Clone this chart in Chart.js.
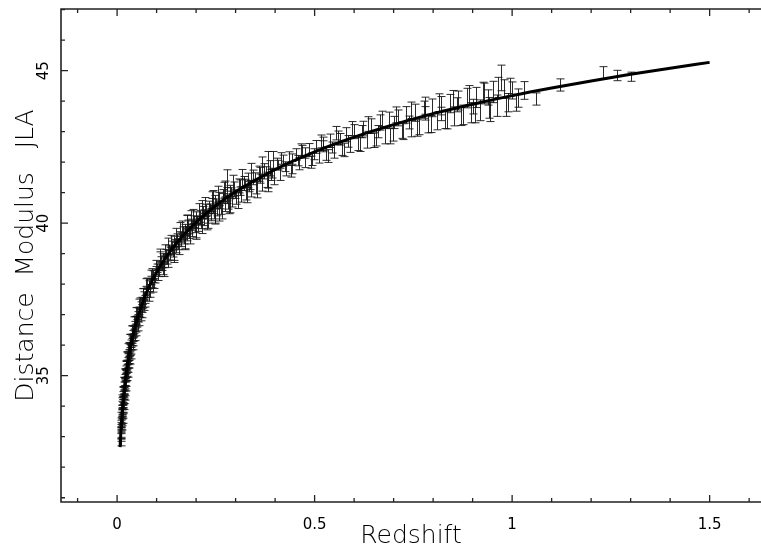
<!DOCTYPE html>
<html lang="en">
<head>
    <meta charset="UTF-8">
    <title>Distance Modulus JLA</title>
    <script src="https://cdn.jsdelivr.net/npm/chart.js@4.4.0/dist/chart.umd.min.js"></script>
    <style>
        body { margin: 0; background: #fff; overflow: hidden; }
    </style>
</head>
<body>
<canvas id="chart" width="761" height="551"></canvas>
<script>
// supernovae: redshift, distance modulus, error
const snZ = [
    0.0087, 0.0092, 0.0098, 0.0102, 0.0108, 0.0113, 0.0118, 0.0124, 0.0130, 0.0135,
    0.0141, 0.0146, 0.0152, 0.0158, 0.0163, 0.0169, 0.0174, 0.0180, 0.0186, 0.0192,
    0.0198, 0.0205, 0.0212, 0.0219, 0.0226, 0.0233, 0.0241, 0.0249, 0.0257, 0.0265,
    0.0274, 0.0283, 0.0292, 0.0302, 0.0312, 0.0322, 0.0333, 0.0344, 0.0355, 0.0367,
    0.0380, 0.0393, 0.0406, 0.0420, 0.0435, 0.0450, 0.0466, 0.0483, 0.0500, 0.0518,
    0.0537, 0.0556, 0.0576, 0.0597, 0.0619, 0.0642, 0.0666, 0.0690, 0.0715, 0.0741,
    0.0768, 0.0796, 0.0825, 0.0855, 0.0886, 0.0918, 0.0951, 0.0985,
    0.102, 0.106, 0.110, 0.113, 0.117, 0.120, 0.124, 0.127, 0.131, 0.134,
    0.138, 0.141, 0.145, 0.148, 0.152, 0.155, 0.159, 0.162, 0.166, 0.169,
    0.173, 0.176, 0.177, 0.180, 0.183, 0.187, 0.190, 0.194, 0.197, 0.201, 0.205,
    0.209, 0.213, 0.217, 0.221, 0.225, 0.229, 0.233, 0.237, 0.241, 0.245,
    0.248, 0.249, 0.253, 0.258, 0.262, 0.267, 0.272, 0.277, 0.278, 0.282, 0.287,
    0.292, 0.297, 0.302, 0.308, 0.314, 0.320, 0.326, 0.332, 0.338, 0.345,
    0.352, 0.359, 0.366, 0.373, 0.380, 0.382, 0.388, 0.396,
    0.405, 0.412, 0.420, 0.428, 0.436, 0.444, 0.452, 0.460, 0.468, 0.476,
    0.485, 0.494, 0.503, 0.512, 0.521, 0.530, 0.540, 0.550, 0.560, 0.570,
    0.580, 0.590, 0.600, 0.611, 0.622, 0.633, 0.644, 0.655, 0.666, 0.677,
    0.688, 0.699, 0.710, 0.721, 0.732, 0.743, 0.754, 0.765, 0.776, 0.787,
    0.798, 0.809, 0.820, 0.831, 0.842, 0.853, 0.864, 0.875, 0.886, 0.897,
    0.908, 0.919, 0.930, 0.941, 0.952, 0.961, 0.971, 0.980, 0.990, 1.000,
    1.015, 1.030, 1.060, 1.120, 1.230, 1.265, 1.300,
    0.0095, 0.0105, 0.0115, 0.0122, 0.0133, 0.0144, 0.0155, 0.0166, 0.0177, 0.0188,
    0.0201, 0.0215, 0.0229, 0.0245, 0.0261, 0.0278, 0.0297, 0.0317, 0.0338, 0.0361,
    0.0386, 0.0413, 0.0442, 0.0473, 0.0507, 0.0543, 0.0582, 0.0623, 0.0668, 0.0716,
    0.0768, 0.0823, 0.0882, 0.0945, 0.0990,
    0.104, 0.108, 0.115, 0.122, 0.129, 0.136, 0.143, 0.150, 0.157, 0.164,
    0.171, 0.178, 0.185, 0.192, 0.199, 0.207, 0.215, 0.223, 0.231, 0.239,
    0.247, 0.256, 0.265, 0.274, 0.284, 0.294, 0.305, 0.316, 0.328, 0.340,
    0.353, 0.367, 0.381, 0.395,
    0.310, 0.335, 0.362, 0.390, 0.415, 0.440, 0.465, 0.490, 0.515, 0.535,
    0.555, 0.575, 0.595, 0.615, 0.635, 0.650, 0.670, 0.690, 0.705, 0.725,
    0.745, 0.760, 0.780, 0.795, 0.815, 0.835, 0.850, 0.870, 0.890, 0.905,
    0.925, 0.945, 0.965, 0.985, 0.995, 1.010,
    0.202, 0.211, 0.219, 0.227, 0.235, 0.243, 0.251, 0.260, 0.269, 0.279,
    0.289, 0.299, 0.311, 0.323, 0.336, 0.349, 0.363, 0.377, 0.392, 0.408,
    0.425, 0.442, 0.458, 0.475, 0.498, 0.520, 0.545, 0.565, 0.585, 0.620,
    0.660, 0.700, 0.740, 0.780, 0.820, 0.860, 0.900, 0.940,
    0.105, 0.112, 0.119, 0.126, 0.133, 0.140, 0.147, 0.154, 0.161, 0.168,
    0.175, 0.182, 0.189, 0.196,
    0.0100, 0.0110, 0.0127, 0.0138, 0.0150, 0.0161, 0.0172, 0.0184, 0.0196, 0.0209,
    0.0223, 0.0237, 0.0253, 0.0270, 0.0288, 0.0307, 0.0328, 0.0350, 0.0374, 0.0400,
    0.0428, 0.0458, 0.0490, 0.0525, 0.0562, 0.0602, 0.0645, 0.0692, 0.0742, 0.0795,
    0.0850, 0.0910,
    0.109, 0.118, 0.130, 0.144, 0.158, 0.172, 0.186, 0.200, 0.214, 0.228,
    0.242, 0.257, 0.271, 0.286
];
const snMu = [
    32.90, 33.12, 33.15, 33.38, 33.30, 33.58, 33.52, 33.80, 33.74, 34.02,
    33.90, 34.18, 34.08, 34.35, 34.22, 34.52, 34.40, 34.66, 34.50, 34.78,
    34.70, 34.92, 34.80, 35.06, 34.96, 35.20, 35.10, 35.35, 35.24, 35.48,
    35.38, 35.60, 35.52, 35.74, 35.62, 35.90, 35.80, 36.05, 35.96, 36.18,
    36.10, 36.36, 36.24, 36.50, 36.40, 36.66, 36.55, 36.82, 36.72, 36.98,
    36.88, 37.12, 37.05, 37.30, 37.20, 37.45, 37.36, 37.62, 37.50, 37.80,
    37.70, 37.98, 37.85, 38.12, 38.02, 38.30, 38.18, 38.44,
    38.52, 38.40, 38.75, 38.60, 38.85, 38.70, 38.98, 38.82, 39.12, 38.95,
    39.25, 39.05, 39.40, 39.20, 39.48, 39.30, 39.55, 39.40, 39.70, 39.50,
    39.78, 39.60, 39.95, 39.92, 39.68, 39.95, 39.75, 40.05, 39.88, 40.18, 39.92,
    40.22, 40.02, 40.35, 40.12, 40.42, 40.20, 40.52, 40.28, 40.60, 40.35,
    40.30, 40.70, 40.45, 40.80, 40.50, 40.88, 40.60, 40.95, 41.40, 40.68, 41.02,
    40.75, 41.12, 40.85, 41.22, 40.92, 41.30, 41.00, 41.40, 41.10, 41.50,
    41.20, 41.62, 41.30, 41.70, 41.42, 41.75, 41.80, 41.52,
    41.95, 41.60, 42.05, 41.75, 42.15, 41.82, 42.25, 41.95, 42.35, 42.02,
    42.40, 42.10, 42.50, 42.18, 42.60, 42.28, 42.70, 42.35, 42.80, 42.45,
    42.90, 42.55, 43.00, 42.62, 43.10, 42.70, 43.18, 42.78, 43.30, 42.85,
    43.38, 42.95, 43.45, 43.05, 43.55, 43.10, 43.62, 43.18, 43.72, 43.25,
    43.78, 43.35, 43.85, 43.40, 43.92, 43.50, 44.02, 43.55, 44.10, 43.62,
    44.12, 43.70, 44.25, 43.78, 44.30, 43.85, 44.76, 44.40, 43.95, 44.35,
    44.10, 44.35, 44.07, 44.53, 44.93, 44.84, 44.80,
    33.40, 33.05, 33.85, 33.40, 34.20, 33.78, 34.48, 34.05, 34.80, 34.35,
    35.08, 34.65, 35.35, 34.98, 35.65, 35.25, 35.95, 35.52, 36.22, 35.85,
    36.50, 36.12, 36.80, 36.45, 37.10, 36.78, 37.40, 37.05, 37.70, 37.40,
    38.05, 37.72, 38.35, 38.02, 38.62,
    38.30, 38.88, 38.50, 39.10, 38.75, 39.40, 38.98, 39.62, 39.18, 39.85,
    39.38, 40.05, 39.55, 40.22, 39.75, 40.40, 39.90, 40.60, 40.08, 40.78,
    40.22, 40.95, 40.40, 41.12, 40.58, 41.30, 40.75, 41.48, 40.95, 41.68,
    41.12, 41.88, 41.32, 42.05,
    41.25, 41.20, 41.65, 41.58, 42.12, 41.70, 42.40, 42.00, 42.68, 42.20,
    42.95, 42.40, 43.10, 42.58, 43.25, 42.72, 43.42, 42.85, 43.55, 43.00,
    43.70, 43.12, 43.85, 43.25, 43.95, 43.38, 44.05, 43.50, 44.20, 43.60,
    44.30, 43.65, 44.45, 43.80, 44.45, 43.95,
    40.10, 40.08, 40.32, 40.26, 40.50, 40.44, 40.66, 40.60, 40.84, 40.78,
    41.02, 40.95, 41.05, 41.30, 41.25, 41.50, 41.46, 41.70, 41.64, 41.90,
    41.85, 42.10, 42.05, 42.30, 42.26, 42.52, 42.48, 42.75, 42.68, 43.00,
    43.00, 43.30, 43.30, 43.60, 43.58, 43.88, 43.82, 44.12,
    38.55, 38.62, 38.84, 38.88, 39.10, 39.13, 39.34, 39.37, 39.56, 39.58,
    39.76, 39.77, 39.95, 39.95,
    33.60, 33.12, 34.10, 33.62, 34.45, 33.95, 34.78, 34.25, 35.05, 34.50,
    35.32, 34.80, 35.62, 35.10, 35.90, 35.40, 36.20, 35.70, 36.48, 36.00,
    36.78, 36.30, 37.08, 36.62, 37.36, 36.95, 37.70, 37.30, 38.02, 37.60,
    38.30, 37.90,
    38.95, 38.45, 39.30, 38.92, 39.80, 39.35, 40.18, 39.70, 40.50, 40.02,
    40.82, 40.32, 41.08, 40.60
];
const snErr = [
    0.20, 0.18, 0.17, 0.16, 0.17, 0.15, 0.16, 0.15, 0.15, 0.14,
    0.15, 0.14, 0.14, 0.13, 0.14, 0.13, 0.13, 0.13, 0.13, 0.12,
    0.13, 0.12, 0.12, 0.12, 0.12, 0.12, 0.12, 0.12, 0.12, 0.12,
    0.12, 0.12, 0.12, 0.12, 0.12, 0.12, 0.12, 0.12, 0.12, 0.12,
    0.12, 0.12, 0.12, 0.12, 0.12, 0.12, 0.12, 0.12, 0.12, 0.12,
    0.12, 0.12, 0.13, 0.12, 0.13, 0.12, 0.13, 0.13, 0.13, 0.13,
    0.13, 0.13, 0.14, 0.14, 0.14, 0.14, 0.14, 0.14,
    0.14, 0.15, 0.15, 0.15, 0.15, 0.16, 0.16, 0.16, 0.16, 0.16,
    0.16, 0.16, 0.17, 0.17, 0.17, 0.17, 0.17, 0.17, 0.18, 0.18,
    0.18, 0.18, 0.30, 0.18, 0.18, 0.18, 0.19, 0.19, 0.19, 0.19, 0.19,
    0.19, 0.20, 0.20, 0.20, 0.20, 0.20, 0.20, 0.20, 0.21, 0.21,
    0.30, 0.21, 0.21, 0.21, 0.21, 0.22, 0.22, 0.22, 0.35, 0.22, 0.22,
    0.22, 0.23, 0.23, 0.23, 0.23, 0.23, 0.24, 0.24, 0.24, 0.24,
    0.24, 0.25, 0.25, 0.25, 0.25, 0.60, 0.25, 0.26,
    0.18, 0.20, 0.18, 0.20, 0.19, 0.20, 0.19, 0.20, 0.20, 0.20,
    0.21, 0.21, 0.21, 0.21, 0.22, 0.22, 0.22, 0.22, 0.22, 0.23,
    0.23, 0.23, 0.23, 0.24, 0.24, 0.24, 0.24, 0.25, 0.25, 0.25,
    0.26, 0.26, 0.26, 0.27, 0.27, 0.27, 0.28, 0.28, 0.28, 0.29,
    0.29, 0.29, 0.30, 0.30, 0.30, 0.31, 0.31, 0.32, 0.32, 0.33,
    0.33, 0.34, 0.34, 0.34, 0.35, 0.35, 0.42, 0.30, 0.30, 0.28,
    0.30, 0.29, 0.20, 0.20, 0.20, 0.17, 0.15,
    0.22, 0.20, 0.18, 0.18, 0.17, 0.17, 0.16, 0.16, 0.15, 0.15,
    0.15, 0.15, 0.14, 0.14, 0.14, 0.14, 0.14, 0.14, 0.14, 0.14,
    0.14, 0.14, 0.14, 0.14, 0.14, 0.14, 0.15, 0.15, 0.15, 0.15,
    0.15, 0.15, 0.16, 0.16, 0.16,
    0.18, 0.18, 0.19, 0.19, 0.20, 0.20, 0.20, 0.21, 0.21, 0.22,
    0.22, 0.22, 0.23, 0.23, 0.23, 0.24, 0.24, 0.24, 0.25, 0.25,
    0.25, 0.26, 0.26, 0.26, 0.27, 0.27, 0.27, 0.28, 0.28, 0.28,
    0.29, 0.29, 0.29, 0.30,
    0.17, 0.17, 0.18, 0.18, 0.19, 0.19, 0.20, 0.20, 0.21, 0.21,
    0.22, 0.22, 0.23, 0.23, 0.24, 0.24, 0.25, 0.25, 0.26, 0.26,
    0.27, 0.27, 0.28, 0.28, 0.29, 0.29, 0.30, 0.30, 0.31, 0.31,
    0.32, 0.32, 0.33, 0.30, 0.30, 0.28,
    0.12, 0.12, 0.12, 0.12, 0.13, 0.13, 0.13, 0.13, 0.13, 0.14,
    0.14, 0.14, 0.14, 0.14, 0.15, 0.15, 0.15, 0.15, 0.16, 0.16,
    0.16, 0.17, 0.17, 0.17, 0.18, 0.18, 0.18, 0.19, 0.19, 0.20,
    0.20, 0.20, 0.21, 0.22, 0.22, 0.23, 0.24, 0.25,
    0.11, 0.11, 0.11, 0.12, 0.12, 0.12, 0.12, 0.12, 0.12, 0.12,
    0.12, 0.12, 0.12, 0.12,
    0.20, 0.20, 0.18, 0.18, 0.17, 0.17, 0.16, 0.16, 0.16, 0.16,
    0.15, 0.15, 0.15, 0.15, 0.15, 0.15, 0.15, 0.15, 0.15, 0.15,
    0.15, 0.15, 0.15, 0.15, 0.15, 0.15, 0.16, 0.16, 0.16, 0.16,
    0.16, 0.16,
    0.20, 0.20, 0.21, 0.21, 0.22, 0.22, 0.23, 0.23, 0.24, 0.24,
    0.25, 0.25, 0.26, 0.26
];

// best fit model curve
const curveZ = [0.0076, 0.008, 0.009, 0.010, 0.011, 0.012, 0.013, 0.015, 0.017, 0.020,
    0.025, 0.030, 0.035, 0.040, 0.050, 0.060, 0.070, 0.080, 0.100, 0.120,
    0.150, 0.200, 0.250, 0.300, 0.400, 0.500, 0.600, 0.700, 0.800, 0.900,
    1.000, 1.100, 1.200, 1.300, 1.400, 1.500];
const curveMu = [32.66, 32.77, 33.02, 33.26, 33.46, 33.65, 33.83, 34.14, 34.42, 34.78,
    35.27, 35.67, 36.02, 36.32, 36.82, 37.23, 37.58, 37.89, 38.39, 38.81,
    39.34, 40.03, 40.58, 41.03, 41.76, 42.34, 42.82, 43.23, 43.59, 43.90,
    44.18, 44.43, 44.66, 44.88, 45.08, 45.27];

const xTickVals = [0, 0.5, 1, 1.5];
const yTickVals = [35, 40, 45];
const xMinorVals = [-0.1, 0, 0.1, 0.2, 0.3, 0.4, 0.5, 0.6, 0.7, 0.8, 0.9, 1.0, 1.1, 1.2, 1.3, 1.4, 1.5, 1.6];
const yMinorVals = [31, 32, 33, 34, 35, 36, 37, 38, 39, 40, 41, 42, 43, 44, 45, 46, 47];

const errorBars = {
    id: 'errorBars',
    beforeDatasetsDraw(chart) {
        const ctx = chart.ctx;
        const xs = chart.scales.x, ys = chart.scales.y;
        ctx.save();
        ctx.strokeStyle = 'rgba(20,20,20,0.9)';
        ctx.lineWidth = 1;
        for (let i = 0; i < snZ.length; i++) {
            const px = Math.round(xs.getPixelForValue(snZ[i])) + 0.5;
            const top = ys.getPixelForValue(snMu[i] + snErr[i]);
            const bot = ys.getPixelForValue(snMu[i] - snErr[i]);
            ctx.beginPath();
            ctx.moveTo(px, top); ctx.lineTo(px, bot);
            ctx.moveTo(px - 4, top); ctx.lineTo(px + 4, top);
            ctx.moveTo(px - 4, bot); ctx.lineTo(px + 4, bot);
            ctx.stroke();
        }
        ctx.restore();
    }
};

const frame = {
    id: 'frame',
    afterDraw(chart) {
        const ctx = chart.ctx;
        const a = chart.chartArea;
        const xs = chart.scales.x, ys = chart.scales.y;
        ctx.save();
        ctx.strokeStyle = '#222';
        ctx.lineWidth = 1.6;
        ctx.beginPath();
        ctx.moveTo(chart.width, a.top); ctx.lineTo(a.left, a.top);
        ctx.lineTo(a.left, a.bottom); ctx.lineTo(chart.width, a.bottom);
        ctx.stroke();
        ctx.lineWidth = 1.3;
        ctx.beginPath();
        xMinorVals.forEach(v => {
            const px = xs.getPixelForValue(v);
            const len = xTickVals.includes(v) ? 7 : 4;
            ctx.moveTo(px, a.bottom); ctx.lineTo(px, a.bottom - len);
            ctx.moveTo(px, a.top); ctx.lineTo(px, a.top + len);
        });
        yMinorVals.forEach(v => {
            const py = ys.getPixelForValue(v);
            const len = yTickVals.includes(v) ? 7 : 4;
            ctx.moveTo(a.left, py); ctx.lineTo(a.left + len, py);
        });
        ctx.stroke();
        ctx.restore();
    }
};

const ctx = document.getElementById('chart').getContext('2d');
new Chart(ctx, {
    data: {
        datasets: [{
            type: 'scatter',
            label: 'JLA',
            data: snZ.map((z, i) => ({x: z, y: snMu[i]})),
            pointRadius: 0,
            showLine: false
        }, {
            type: 'line',
            label: 'model',
            data: curveZ.map((z, i) => ({x: z, y: curveMu[i]})),
            borderColor: '#000',
            borderWidth: 3,
            pointRadius: 0,
            cubicInterpolationMode: 'monotone',
            fill: false
        }]
    },
    options: {
        responsive: false,
        animation: false,
        layout: { padding: { top: 9, right: 0, left: 0, bottom: 0 } },
        plugins: { legend: { display: false }, tooltip: { enabled: false } },
        scales: {
            x: {
                type: 'linear',
                min: -0.142,
                max: 1.63,
                grid: { display: false },
                border: { display: false },
                afterBuildTicks: s => { s.ticks = xTickVals.map(v => ({value: v})); },
                afterFit: s => { s.height = 49; s.paddingLeft = 0; s.paddingRight = 0; },
                ticks: {
                    color: '#000',
                    padding: 6,
                    maxRotation: 0,
                    font: { family: 'DejaVu Sans', size: 15 },
                    callback: v => String(v)
                },
                title: {
                    display: true,
                    text: 'Redshift',
                    color: '#000',
                    font: { family: 'DejaVu Sans', size: 25, weight: 300 },
                    padding: { top: 0, bottom: 0 }
                }
            },
            y: {
                type: 'linear',
                min: 30.86,
                max: 47.02,
                grid: { display: false },
                border: { display: false },
                afterBuildTicks: s => { s.ticks = yTickVals.map(v => ({value: v})); },
                afterFit: s => { s.width = 61; s.paddingTop = 0; s.paddingBottom = 0; },
                ticks: {
                    color: '#000',
                    padding: -1,
                    minRotation: 90,
                    maxRotation: 90,
                    crossAlign: 'center',
                    font: { family: 'DejaVu Sans', size: 15 },
                    callback: v => String(v)
                },
                title: {
                    display: true,
                    text: 'Distance  Modulus   JLA',
                    color: '#000',
                    font: { family: 'DejaVu Sans', size: 25, weight: 300 },
                    padding: { top: 11, bottom: 0 }
                }
            }
        }
    },
    plugins: [errorBars, frame]
});
</script>
</body>
</html>
